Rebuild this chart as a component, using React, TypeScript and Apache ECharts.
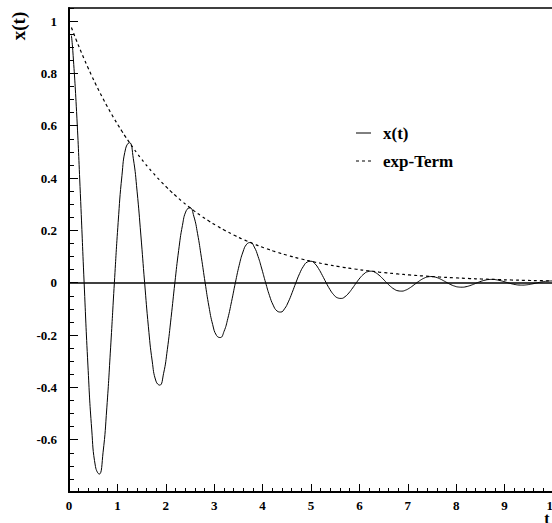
import React, { useEffect, useRef } from "react";
import * as echarts from "echarts";

// Sample times t (s)
const tValues = [
  0.05, 0.0781, 0.1563, 0.2344, 0.3125, 0.3906, 0.4688, 0.5469, 0.625, 0.7031, 0.7813, 0.8594, 0.9375, 1.0156, 1.0938, 1.1719,
  1.25, 1.3281, 1.4063, 1.4844, 1.5625, 1.6406, 1.7188, 1.7969, 1.875, 1.9531, 2.0313, 2.1094, 2.1875, 2.2656, 2.3438, 2.4219,
  2.5, 2.5781, 2.6563, 2.7344, 2.8125, 2.8906, 2.9688, 3.0469, 3.125, 3.2031, 3.2813, 3.3594, 3.4375, 3.5156, 3.5938, 3.6719,
  3.75, 3.8281, 3.9063, 3.9844, 4.0625, 4.1406, 4.2188, 4.2969, 4.375, 4.4531, 4.5313, 4.6094, 4.6875, 4.7656, 4.8438, 4.9219,
  5, 5.0781, 5.1563, 5.2344, 5.3125, 5.3906, 5.4688, 5.5469, 5.625, 5.7031, 5.7813, 5.8594, 5.9375, 6.0156, 6.0938, 6.1719,
  6.25, 6.3281, 6.4063, 6.4844, 6.5625, 6.6406, 6.7188, 6.7969, 6.875, 6.9531, 7.0313, 7.1094, 7.1875, 7.2656, 7.3438, 7.4219,
  7.5, 7.5781, 7.6563, 7.7344, 7.8125, 7.8906, 7.9688, 8.0469, 8.125, 8.2031, 8.2813, 8.3594, 8.4375, 8.5156, 8.5938, 8.6719,
  8.75, 8.8281, 8.9063, 8.9844, 9.0625, 9.1406, 9.2188, 9.2969, 9.375, 9.4531, 9.5313, 9.6094, 9.6875, 9.7656, 9.8438, 9.9219,
  10,
];

// Damped oscillation x(t)
const xValues = [
  0.9447, 0.8885, 0.654, 0.3404, 0, -0.3148, -0.5594, -0.7029, -0.7316, -0.65, -0.4785, -0.249, 0, 0.2303, 0.4092, 0.5142,
  0.5353, 0.4756, 0.35, 0.1822, 0, -0.1685, -0.2994, -0.3762, -0.3916, -0.3479, -0.2561, -0.1333, 0, 0.1233, 0.2191, 0.2752,
  0.2865, 0.2546, 0.1874, 0.0975, 0, -0.0902, -0.1603, -0.2014, -0.2096, -0.1862, -0.1371, -0.0714, 0, 0.066, 0.1173, 0.1473,
  0.1534, 0.1363, 0.1003, 0.0522, 0, -0.0483, -0.0858, -0.1078, -0.1122, -0.0997, -0.0734, -0.0382, 0, 0.0353, 0.0628, 0.0789,
  0.0821, 0.0729, 0.0537, 0.0279, 0, -0.0258, -0.0459, -0.0577, -0.0601, -0.0534, -0.0393, -0.0204, 0, 0.0189, 0.0336, 0.0422,
  0.0439, 0.039, 0.0287, 0.015, 0, -0.0138, -0.0246, -0.0309, -0.0322, -0.0286, -0.021, -0.0109, 0, 0.0101, 0.018, 0.0226,
  0.0235, 0.0209, 0.0154, 0.008, 0, -0.0074, -0.0132, -0.0165, -0.0172, -0.0153, -0.0113, -0.0059, 0, 0.0054, 0.0096, 0.0121,
  0.0126, 0.0112, 0.0082, 0.0043, 0, -0.004, -0.007, -0.0089, -0.0092, -0.0082, -0.006, -0.0031, 0, 0.0029, 0.0052, 0.0065,
  0.0067,
];

// Exponential envelope
const expValues = [
  0.9753, 0.9617, 0.9248, 0.8894, 0.8553, 0.8226, 0.7911, 0.7608, 0.7316, 0.7036, 0.6766, 0.6507, 0.6258, 0.6018, 0.5788, 0.5566,
  0.5353, 0.5148, 0.495, 0.4761, 0.4578, 0.4403, 0.4234, 0.4072, 0.3916, 0.3766, 0.3622, 0.3483, 0.335, 0.3221, 0.3098, 0.2979,
  0.2865, 0.2755, 0.265, 0.2548, 0.2451, 0.2357, 0.2267, 0.218, 0.2096, 0.2016, 0.1939, 0.1864, 0.1793, 0.1724, 0.1658, 0.1595,
  0.1534, 0.1475, 0.1418, 0.1364, 0.1312, 0.1262, 0.1213, 0.1167, 0.1122, 0.1079, 0.1038, 0.0998, 0.096, 0.0923, 0.0888, 0.0854,
  0.0821, 0.0789, 0.0759, 0.073, 0.0702, 0.0675, 0.0649, 0.0625, 0.0601, 0.0578, 0.0555, 0.0534, 0.0514, 0.0494, 0.0475, 0.0457,
  0.0439, 0.0423, 0.0406, 0.0391, 0.0376, 0.0361, 0.0348, 0.0334, 0.0322, 0.0309, 0.0297, 0.0286, 0.0275, 0.0264, 0.0254, 0.0245,
  0.0235, 0.0226, 0.0218, 0.0209, 0.0201, 0.0194, 0.0186, 0.0179, 0.0172, 0.0166, 0.0159, 0.0153, 0.0147, 0.0142, 0.0136, 0.0131,
  0.0126, 0.0121, 0.0116, 0.0112, 0.0108, 0.0104, 0.01, 0.0096, 0.0092, 0.0089, 0.0085, 0.0082, 0.0079, 0.0076, 0.0073, 0.007,
  0.0067,
];

const seriesNames = ["x(t)", "exp-Term"];
const xAxisTitle = "t";
const yAxisTitle = "x(t)";

const FONT = "'Liberation Serif', 'Times New Roman', serif";

export default function App() {
  const ref = useRef<HTMLDivElement>(null);

  useEffect(() => {
    if (!ref.current) return;
    const chart = echarts.init(ref.current, undefined, { renderer: "svg" });

    const xData = tValues.map((t, i) => [t, xValues[i]]);
    const eData = tValues.map((t, i) => [t, expValues[i]]);

    const labelStyle = {
      color: "#000",
      fontFamily: FONT,
      fontWeight: "bold" as const,
      fontSize: 13,
    };

    chart.setOption({
      animation: false,
      backgroundColor: "#fff",
      grid: {
        left: 69,
        right: -1,
        top: 8,
        bottom: 31,
        show: true,
        borderColor: "#000",
        borderWidth: 1.5,
        backgroundColor: "transparent",
        containLabel: false,
        outerBoundsMode: "none",
      },
      xAxis: {
        type: "value",
        min: 0,
        max: 10,
        interval: 1,
        axisLine: { show: true, onZero: false, lineStyle: { color: "#000", width: 2 } },
        axisTick: { show: true, inside: true, length: 8, lineStyle: { color: "#000", width: 1 } },
        minorTick: { show: true, splitNumber: 5, length: 4, lineStyle: { color: "#000", width: 1 } },
        axisLabel: { ...labelStyle, margin: 7 },
        splitLine: { show: false },
        minorSplitLine: { show: false },
      },
      yAxis: [
        {
          type: "value",
          min: -0.8,
          max: 1.05,
          interval: 0.2,
          axisLine: { show: true, onZero: false, lineStyle: { color: "#000", width: 2 } },
          axisTick: { show: true, inside: true, length: 9, lineStyle: { color: "#000", width: 1 } },
          axisLabel: { ...labelStyle, margin: 12, showMinLabel: false, showMaxLabel: false },
          splitLine: { show: false },
        },
        {
          type: "value",
          min: -0.8,
          max: 1.05,
          interval: 0.05,
          position: "left",
          axisLine: { show: false, onZero: false },
          axisTick: { show: true, inside: true, length: 5, lineStyle: { color: "#000", width: 1 } },
          axisLabel: { show: false },
          splitLine: { show: false },
        },
      ],
      series: [
        {
          name: seriesNames[0],
          type: "line",
          data: xData,
          yAxisIndex: 0,
          showSymbol: false,
          symbol: "none",
          smooth: true,
          lineStyle: { color: "#000", width: 1 },
          markLine: {
            silent: true,
            symbol: "none",
            label: { show: false },
            lineStyle: { color: "#000", width: 1.5, type: "solid" },
            data: [{ yAxis: 0 }],
          },
          z: 3,
        },
        {
          name: seriesNames[1],
          type: "line",
          data: eData,
          yAxisIndex: 0,
          showSymbol: false,
          symbol: "none",
          smooth: true,
          lineStyle: { color: "#000", width: 1.2, type: [3, 3] },
          z: 2,
        },
      ],
      graphic: [
        {
          type: "text",
          x: 18,
          y: 26,
          rotation: Math.PI / 2,
          style: {
            text: yAxisTitle,
            fill: "#000",
            font: `bold 19px ${FONT}`,
            align: "center",
            verticalAlign: "middle",
          },
        },
        {
          type: "text",
          x: 547,
          y: 518,
          style: {
            text: xAxisTitle,
            fill: "#000",
            font: `bold 16px ${FONT}`,
            align: "center",
            verticalAlign: "middle",
          },
        },
        {
          type: "line",
          shape: { x1: 356, y1: 133, x2: 371, y2: 133 },
          style: { stroke: "#000", lineWidth: 1 },
        },
        {
          type: "text",
          x: 383,
          y: 133,
          style: {
            text: seriesNames[0],
            fill: "#000",
            font: `bold 17px ${FONT}`,
            align: "left",
            verticalAlign: "middle",
          },
        },
        {
          type: "line",
          shape: { x1: 356, y1: 161, x2: 372, y2: 161 },
          style: { stroke: "#000", lineWidth: 1.2, lineDash: [3, 3] },
        },
        {
          type: "text",
          x: 383,
          y: 161,
          style: {
            text: seriesNames[1],
            fill: "#000",
            font: `bold 17px ${FONT}`,
            align: "left",
            verticalAlign: "middle",
          },
        },
      ],
    });

    return () => chart.dispose();
  }, []);

  return (
    <div
      ref={ref}
      style={{ position: "fixed", left: 0, top: 0, width: 552, height: 523, background: "#fff" }}
    />
  );
}
